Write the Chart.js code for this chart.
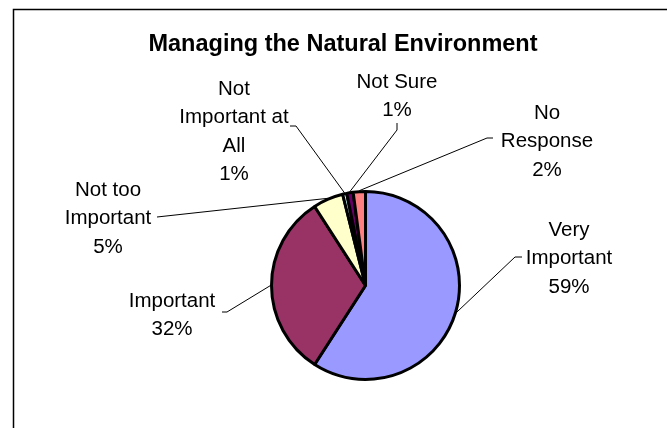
<!DOCTYPE html>
<html lang="en">
<head>
<meta charset="UTF-8">
<script src="https://cdn.jsdelivr.net/npm/chart.js@4.4.0/dist/chart.umd.min.js"></script>
<title>Managing the Natural Environment</title>
<style>
  html, body { margin: 0; padding: 0; background: #fff; }
  #wrap { position: relative; width: 667px; height: 428px; }
</style>
</head>
<body>
<div id="wrap"><canvas id="pieChart" width="667" height="428"></canvas></div>
<script>
var chartTitle = 'Managing the Natural Environment';
var categories = ['Very Important', 'Important', 'Not too Important', 'Not Important at All', 'Not Sure', 'No Response'];
var values = [59.1, 31.8, 5.2, 0.7, 1.1, 2.1];
var colors = ['#9999FF', '#993366', '#FFFFCC', '#CCFFFF', '#660066', '#FF8080'];
// how each category name is wrapped in its label
var labelLines = [['Very', 'Important'], ['Important'], ['Not too', 'Important'], ['Not', 'Important at', 'All'], ['Not Sure'], ['No', 'Response']];

// label placement: block centre x, first line y, leader anchor and elbow
var labelPos = [
  {x: 569, y: 230, ax: 522, ay: 257, ex: 515, ey: 257},
  {x: 172, y: 301, ax: 222, ay: 312, ex: 227, ey: 312},
  {x: 108, y: 190, ax: 157, ay: 217, ex: 157, ey: 217},
  {x: 234, y: 89,  ax: 290, ay: 126, ex: 296, ey: 126},
  {x: 397, y: 82,  ax: 397, ay: 123, ex: 397, ey: 130},
  {x: 547, y: 113, ax: 493, ay: 138, ex: 487, ey: 138}
];
var lineH = 28.5;
var fontFam = '"Liberation Sans", Arial, sans-serif';

var total = values.reduce(function (a, b) { return a + b; }, 0);

var decor = {
  id: 'decor',
  afterDraw: function (chart) {
    var ctx = chart.ctx;
    ctx.save();
    // frame
    ctx.strokeStyle = '#000';
    ctx.lineWidth = 1.5;
    ctx.beginPath();
    ctx.moveTo(13.5, 428);
    ctx.lineTo(13.5, 9.5);
    ctx.lineTo(667, 9.5);
    ctx.stroke();

    // title
    ctx.fillStyle = '#000';
    ctx.font = 'bold 23.5px ' + fontFam;
    ctx.textAlign = 'center';
    ctx.textBaseline = 'middle';
    ctx.fillText(chartTitle, 343, 45);

    // labels and leader lines
    var arcs = chart.getDatasetMeta(0).data;
    ctx.font = '20.5px ' + fontFam;
    ctx.lineWidth = 1;
    arcs.forEach(function (arc, i) {
      var p = arc.getProps(['x', 'y', 'startAngle', 'endAngle', 'outerRadius'], true);
      var mid = (p.startAngle + p.endAngle) / 2;
      var px = p.x + Math.cos(mid) * (p.outerRadius + 1);
      var py = p.y + Math.sin(mid) * (p.outerRadius + 1);
      var lp = labelPos[i];
      ctx.beginPath();
      ctx.moveTo(px, py);
      ctx.lineTo(lp.ex, lp.ey);
      ctx.lineTo(lp.ax, lp.ay);
      ctx.stroke();

      var lines = labelLines[i].concat([Math.round(values[i] / total * 100) + '%']);
      lines.forEach(function (t, k) {
        ctx.fillText(t, lp.x, lp.y + k * lineH);
      });
    });
    ctx.restore();
  }
};

var ctx = document.getElementById('pieChart').getContext('2d');
var pieChart = new Chart(ctx, {
  type: 'pie',
  data: {
    labels: categories,
    datasets: [{
      data: values,
      backgroundColor: colors,
      borderColor: '#000',
      borderWidth: 3,
      hoverOffset: 0,
      offset: 0
    }]
  },
  options: {
    responsive: false,
    animation: false,
    events: [],
    layout: { padding: { left: 270, right: 206, top: 190, bottom: 47 } },
    plugins: {
      legend: { display: false },
      title: { display: false },
      tooltip: { enabled: false }
    }
  },
  plugins: [decor]
});
</script>
</body>
</html>
